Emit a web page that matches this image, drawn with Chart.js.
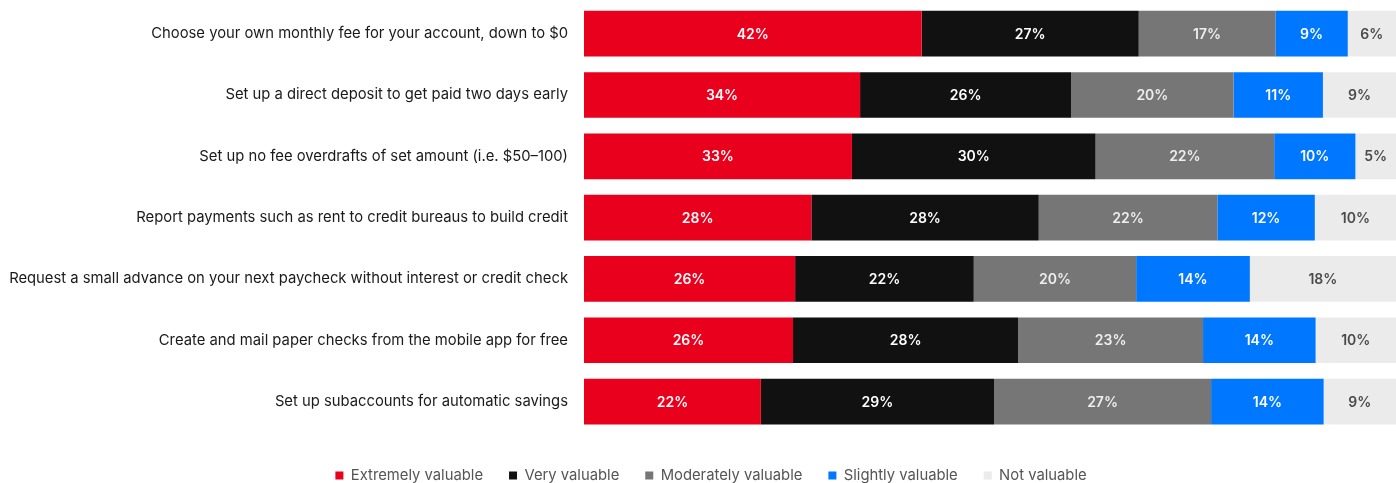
<!DOCTYPE html>
<html><head><meta charset="utf-8">
<script src="https://cdn.jsdelivr.net/npm/chart.js@4"></script>
<style>html,body{margin:0;padding:0;background:#fff}#wrap{width:1396px;height:483px}</style>
</head><body><div id="wrap"><canvas id="c" width="1396" height="483"></canvas></div>
<script>
const categories = [
  "Choose your own monthly fee for your account, down to $0",
  "Set up a direct deposit to get paid two days early",
  "Set up no fee overdrafts of set amount (i.e. $50\u2013100)",
  "Report payments such as rent to credit bureaus to build credit",
  "Request a small advance on your next paycheck without interest or credit check",
  "Create and mail paper checks from the mobile app for free",
  "Set up subaccounts for automatic savings"
];
const seriesNames = ["Extremely valuable","Very valuable","Moderately valuable","Slightly valuable","Not valuable"];
const extremely = [42,34,33,28,26,26,22];
const very      = [27,26,30,28,22,28,29];
const moderately= [17,20,22,22,20,23,27];
const slightly  = [9,11,10,12,14,14,14];
const notval    = [6,9,5,10,18,10,9];
const colors = ["#e8001c","#111111","#767676","#0077ff","#ebebeb"];
const labelColors = ["#ffffff","#ffffff","#eeeeee","#ffffff","#4a4a4a"];

const raw = [extremely, very, moderately, slightly, notval];
const sums = categories.map((_, i) => raw.reduce((a, s) => a + s[i], 0));

const datasets = raw.map((arr, k) => ({
  label: seriesNames[k],
  data: arr.map((v, i) => v / sums[i] * 100),
  rawData: arr,
  backgroundColor: colors[k],
  borderWidth: 0,
  barPercentage: 0.745,
  categoryPercentage: 1.0
}));

const valueLabels = {
  id: 'valueLabels',
  beforeDraw(chart) {
    const lg = chart.legend;
    const h = lg.bottom - lg.top;
    lg.left = 13; lg.right = chart.width + 13;
    lg.top = 442; lg.bottom = 442 + h;
  },
  afterDatasetsDraw(chart) {
    const ctx = chart.ctx;
    ctx.save();
    ctx.font = '600 14px Inter, "Noto Sans", sans-serif';
    ctx.textAlign = 'center';
    ctx.textBaseline = 'middle';
    chart.data.datasets.forEach((ds, k) => {
      const meta = chart.getDatasetMeta(k);
      meta.data.forEach((el, i) => {
        const cx = (el.x + el.base) / 2;
        ctx.fillStyle = labelColors[k];
        ctx.fillText(ds.rawData[i] + '%', cx, el.y + 1);
      });
    });
    ctx.restore();
  }
};

new Chart(document.getElementById('c'), {
  type: 'bar',
  data: { labels: categories, datasets },
  options: {
    indexAxis: 'y',
    responsive: false,
    animation: false,
    layout: { padding: { top: 3, bottom: 0, left: 0, right: 0 } },
    scales: {
      x: { stacked: true, min: 0, max: 100, display: false },
      y: {
        stacked: true,
        grid: { display: false, drawTicks: false },
        border: { display: false },
        ticks: { color: '#1a1a1a', font: { size: 14.8, family: 'Inter, "Noto Sans", sans-serif' }, padding: 16 },
        afterFit(s) { s.width = 584; s.paddingTop = 0; s.paddingBottom = 0; }
      }
    },
    plugins: {
      legend: {
        position: 'bottom',
        labels: {
          boxWidth: 8, boxHeight: 8, padding: 26,
          color: '#555',
          font: { size: 14.8, family: 'Inter, "Noto Sans", sans-serif' }
        }
      },
      tooltip: { enabled: false }
    }
  },
  plugins: [valueLabels]
});
</script></body></html>
